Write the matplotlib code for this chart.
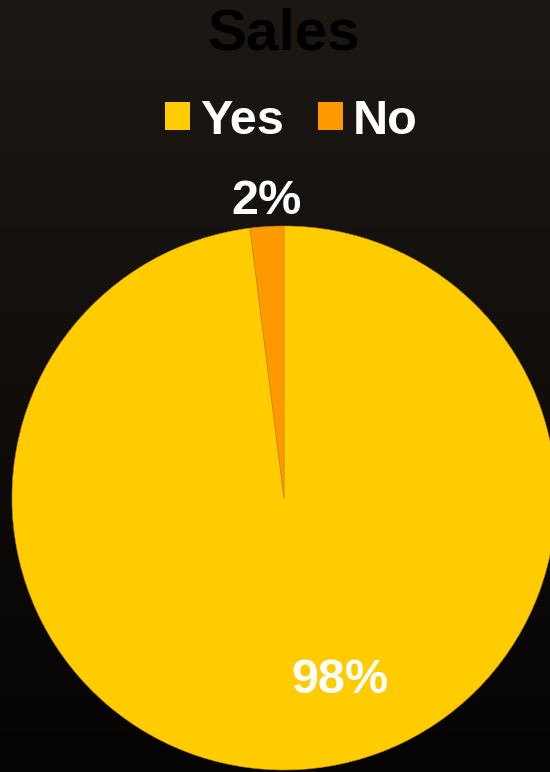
import numpy as np
import matplotlib.pyplot as plt
from matplotlib.patches import Patch

# chart data
labels = ['Yes', 'No']
values = [98, 2]
colors = ['#FFCC00', '#FF9900']
title = 'Sales'

plt.rcParams['font.family'] = ['Liberation Sans', 'DejaVu Sans']
plt.rcParams['font.weight'] = 'bold'


def main():
    fig = plt.figure(figsize=(5.5, 7.72), dpi=100)

    # dark background, slightly lighter at the top
    bg = fig.add_axes([0, 0, 1, 1], zorder=0)
    grad = np.linspace(0, 1, 256).reshape(-1, 1)
    top = np.array([0x1d, 0x18, 0x14]) / 255
    bottom = np.array([0x05, 0x04, 0x03]) / 255
    img = top + (bottom - top) * grad[..., None]
    bg.imshow(img, aspect='auto', extent=[0, 1, 0, 1])
    bg.axis('off')

    # pie axes: centre (284, 498) px, radius 272 px
    ax = fig.add_axes([12 / 550, 2 / 772, 544 / 550, 544 / 772], zorder=1)
    ax.set_facecolor('none')
    wedges, texts, autotexts = ax.pie(
        values, colors=colors, startangle=90, counterclock=False,
        autopct='%d%%', pctdistance=1.1,
        wedgeprops=dict(edgecolor='#c98a00', linewidth=0.4),
        textprops=dict(color='white', fontsize=35, fontweight='bold'))
    autotexts[0].set_position((0.205, -0.67))
    autotexts[1].set_position((-0.063, 1.09))
    ax.set_xlim(-1, 1)
    ax.set_ylim(-1, 1)
    ax.set_aspect('equal')
    ax.axis('off')

    fig.text(284 / 550, 1 - 34 / 772, title, ha='center', va='center',
             fontsize=42, fontweight='bold', color='black')

    handles = [Patch(facecolor=c, edgecolor='none') for c in colors]
    fig.legend(handles, labels, loc='center', bbox_to_anchor=(291 / 550, 1 - 121 / 772),
               ncol=2, frameon=False, fontsize=35, labelcolor='white',
               handlelength=0.52, handleheight=0.52, handletextpad=0.2,
               columnspacing=0.7)

    fig.savefig('out.png', dpi=100)


if __name__ == "__main__":
    main()
